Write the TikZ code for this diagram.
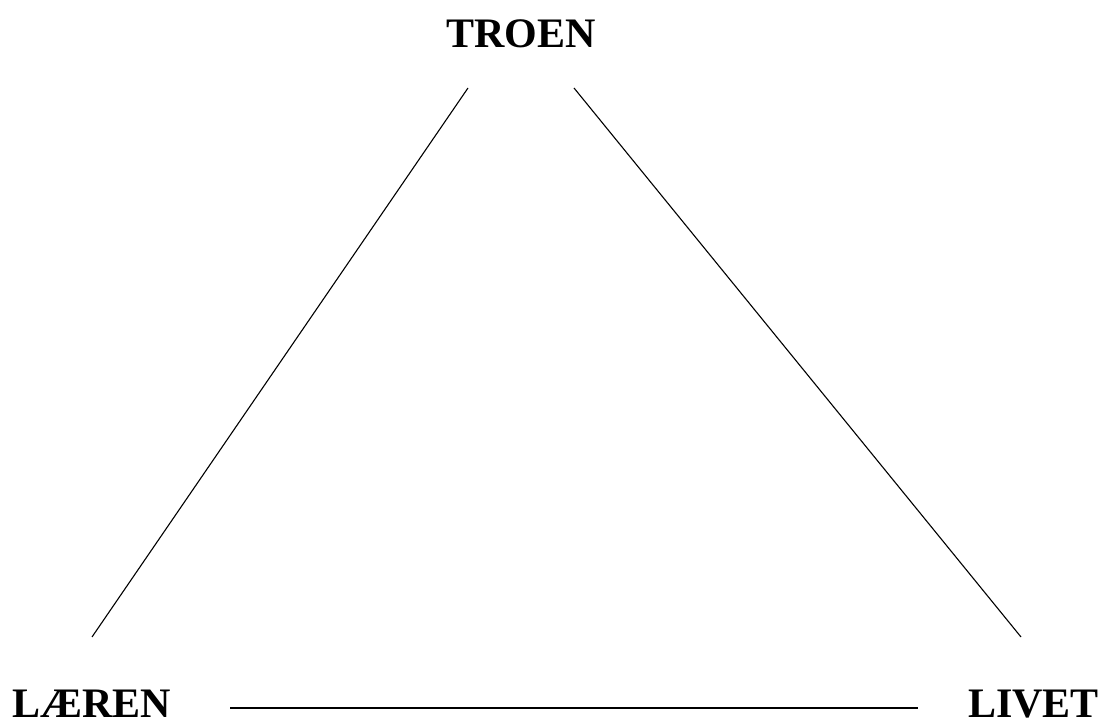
\documentclass[tikz,border=0pt]{standalone}
\usepackage{fontspec}
\setmainfont{Liberation Serif}
\begin{document}
\begin{tikzpicture}[x=1pt,y=1pt,
  lbl/.style={inner sep=0pt,font=\fontsize{42}{42}\selectfont\bfseries},
  edge/.style={line width=1.1pt,black}]
\useasboundingbox (0,0) rectangle (1103,722);
\node[lbl,anchor=base] (troen) at (521,674) {TROEN};
\node[lbl,anchor=base west] (laeren) at (12,4) {LÆREN};
\node[lbl,anchor=base east] (livet) at (1099,4) {LIVET};
\coordinate (tl) at (468,634);
\coordinate (tr) at (574,634);
\coordinate (bl) at (92,85);
\coordinate (br) at (1021,85);
\coordinate (hl) at (230,14);
\coordinate (hr) at (918,14);
\draw[edge] (tl) -- (bl);
\draw[edge] (tr) -- (br);
\draw[edge] (hl) -- (hr);
\end{tikzpicture}
\end{document}
